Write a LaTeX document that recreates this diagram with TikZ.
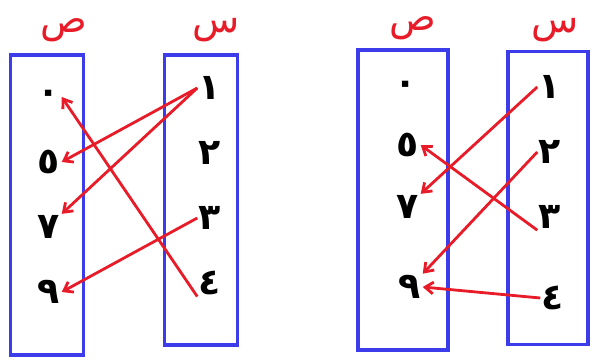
\documentclass[tikz,border=0pt]{standalone}
\usepackage{fontspec}
\TeXXeTstate=1
\newfontfamily\arabicfont[Script=Arabic]{DejaVu Sans}
\usetikzlibrary{positioning,arrows.meta}
\definecolor{boxblue}{RGB}{60,60,235}
\definecolor{mapred}{RGB}{232,28,40}

\begin{document}
\begin{tikzpicture}[x=0.03cm,y=-0.03cm,>={Straight Barb[length=7pt,width=10pt]},thick,node distance=1.95cm,
  set box/.style={draw=boxblue,line width=3pt},
  num node/.style={inner sep=1pt,font=\arabicfont\bfseries\fontsize{31}{31}\selectfont},
  set name/.style={inner sep=0pt,text=mapred,font=\arabicfont\fontsize{33}{33}\selectfont},
  map/.style={->,mapred,line width=2.4pt}]
  \useasboundingbox (0,0) rectangle (603,361);
  % first diagram
  \node[set box,minimum width=2.2cm,minimum height=9cm] (ya) at (47,205) {};
  \node[set box,minimum width=2.2cm,minimum height=8.7cm] (xa) at (201,200) {};
  \node[set name] (yna) at (64,30) {\beginR ص\endR};
  \node[set name] (xna) at (216,30) {\beginR س\endR};
  \node[num node] (ya0) at (49,97) {٠};
  \node[num node] (ya5) [below of=ya0] {٥};
  \node[num node] (ya7) [below of=ya5] {٧};
  \node[num node] (ya9) [below of=ya7] {٩};
  \node[num node] (xa1) at (210,88) {١};
  \node[num node] (xa2) [below of=xa1] {٢};
  \node[num node] (xa3) [below of=xa2] {٣};
  \node[num node] (xa4) [below of=xa3] {٤};
  \path[map]
    (xa1.west) edge (ya5.east)
    (xa1.west) edge (ya7.north east)
    (xa3.west) edge (ya9.east)
    (xa4.south west) edge (ya0.east);
  % second diagram
  \node[set box,minimum width=2.7cm,minimum height=9cm] (yb) at (403,200) {};
  \node[set box,minimum width=2.4cm,minimum height=8.8cm] (xb) at (548,198) {};
  \node[set name] (ynb) at (413,28) {\beginR ص\endR};
  \node[set name] (xnb) at (555,30) {\beginR س\endR};
  \node[num node] (yb0) at (406,88) {٠};
  \node[num node] (yb5) at (408,145) {٥};
  \node[num node] (yb7) at (408,207) {٧};
  \node[num node] (yb9) at (410,287) {٩};
  \node[num node] (xb1) at (550,87) {١};
  \node[num node] (xb2) [below of=xb1] {٢};
  \node[num node] (xb3) [below of=xb2] {٣};
  \node[num node] (xb4) at (553,298) {٤};
  \path[map]
    (xb1.west) edge (yb7.north east)
    (xb2.west) edge (yb9.north east)
    (xb3.south west) edge (yb5.east)
    (xb4.west) edge (yb9.east);
\end{tikzpicture}
\end{document}
